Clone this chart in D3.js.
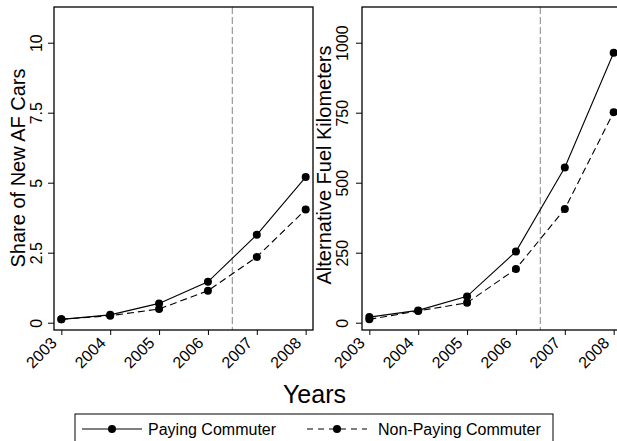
<!DOCTYPE html>
<html><head><meta charset="utf-8">
<script src="https://cdn.jsdelivr.net/npm/d3@7"></script>
<style>body{margin:0;background:#fff}svg{display:block;font-family:"Liberation Sans",Arial,sans-serif}</style>
</head><body><svg id="c" width="617" height="441"></svg>
<script>
const years = [2003, 2004, 2005, 2006, 2007, 2008];
const shareTicks = [0, 2.5, 5, 7.5, 10];
const kmTicks = [0, 250, 500, 750, 1000];
const sharePaying = [0.12, 0.28, 0.69, 1.46, 3.14, 5.2];
const shareNonPaying = [0.12, 0.25, 0.49, 1.14, 2.35, 4.04];
const kmPaying = [20, 44, 94, 254, 554, 964];
const kmNonPaying = [12, 42, 71, 192, 406, 752];
const seriesNames = ["Paying Commuter", "Non-Paying Commuter"];
const policyYear = 2006.5;

const svg = d3.select("#c");
svg.append("rect").attr("width",617).attr("height",441).attr("fill","#fff");

function panel(opt){
  const x = d3.scaleLinear().domain([2002.85, 2008.15]).range([opt.x0, opt.x0 + 259]);
  const y = d3.scaleLinear().domain([0, opt.max]).range([322.7, 42.7]);
  const top = 7, bottom = 330;
  const g = svg.append("g");
  g.append("line").attr("x1", x(policyYear)).attr("x2", x(policyYear))
    .attr("y1", top).attr("y2", bottom).attr("stroke", "#a0a0a0")
    .attr("stroke-width", 1.3).attr("stroke-dasharray", "7,3");
  const ya = g.append("g").attr("transform", `translate(${opt.x0},0)`)
    .call(d3.axisLeft(y).tickValues(opt.ticks).tickSize(6).tickFormat(d3.format("")));
  ya.attr("font-size", 16).attr("font-family", "Liberation Sans, Arial, sans-serif");
  ya.select(".domain").remove();
  ya.selectAll(".tick line").attr("stroke", "#000");
  ya.selectAll(".tick text").attr("x", 0).attr("dy", 0)
    .attr("transform", `translate(${opt.lab},0) rotate(-90)`)
    .attr("text-anchor", "middle").attr("fill", "#000");
  const xa = g.append("g").attr("transform", `translate(0,${bottom})`)
    .call(d3.axisBottom(x).tickValues(years).tickSize(5).tickFormat(d3.format("d")));
  xa.attr("font-size", 16).attr("font-family", "Liberation Sans, Arial, sans-serif");
  xa.select(".domain").remove();
  xa.selectAll(".tick line").attr("stroke", "#000");
  xa.selectAll(".tick text").attr("x", 0).attr("y", 0).attr("dy", 0)
    .attr("transform", "translate(-4,14) rotate(-45)")
    .attr("text-anchor", "end").attr("fill", "#000");
  g.append("rect").attr("x", opt.x0).attr("y", top).attr("width", 259).attr("height", bottom - top)
    .attr("fill", "none").attr("stroke", "#000").attr("stroke-width", 1.3);
  const line = d3.line().x((d, i) => x(years[i])).y(d => y(d));
  [[opt.a, null], [opt.b, "7,4"]].forEach(([vals, dash]) => {
    g.append("path").datum(vals).attr("d", line).attr("fill", "none")
      .attr("stroke", "#000").attr("stroke-width", 1.1)
      .attr("stroke-dasharray", dash);
    g.selectAll(null).data(vals).enter().append("circle")
      .attr("cx", (d, i) => x(years[i])).attr("cy", d => y(d)).attr("r", 4).attr("fill", "#000");
  });
  g.append("text").attr("transform", `translate(${opt.tx},${opt.ty}) rotate(-90)`)
    .attr("text-anchor", "middle").attr("font-size", 20).attr("fill", "#000").text(opt.title);
}

panel({x0: 54, max: 10, ticks: shareTicks, a: sharePaying, b: shareNonPaying,
  lab: -12, title: "Share of New AF Cars", tx: 25, ty: 168});
panel({x0: 362, max: 1000, ticks: kmTicks, a: kmPaying, b: kmNonPaying,
  lab: -14, title: "Alternative Fuel Kilometers", tx: 331, ty: 165});

svg.append("text").attr("x", 314.5).attr("y", 403).attr("text-anchor", "middle")
  .attr("font-size", 25).attr("fill", "#000").text("Years");

svg.append("rect").attr("x", 75).attr("y", 414).attr("width", 478).attr("height", 40)
  .attr("fill", "none").attr("stroke", "#000").attr("stroke-width", 1);
const leg = [{x: 82, tx: 148, dash: null}, {x: 307, tx: 378, dash: "6,5"}];
leg.forEach((l, i) => {
  svg.append("line").attr("x1", l.x).attr("x2", l.x + 60).attr("y1", 429).attr("y2", 429)
    .attr("stroke", "#000").attr("stroke-width", 1.1).attr("stroke-dasharray", l.dash);
  svg.append("circle").attr("cx", l.x + 30).attr("cy", 429).attr("r", 4).attr("fill", "#000");
  svg.append("text").attr("x", l.tx).attr("y", 435).attr("font-size", 16).attr("fill", "#000")
    .text(seriesNames[i]);
});
</script></body></html>
